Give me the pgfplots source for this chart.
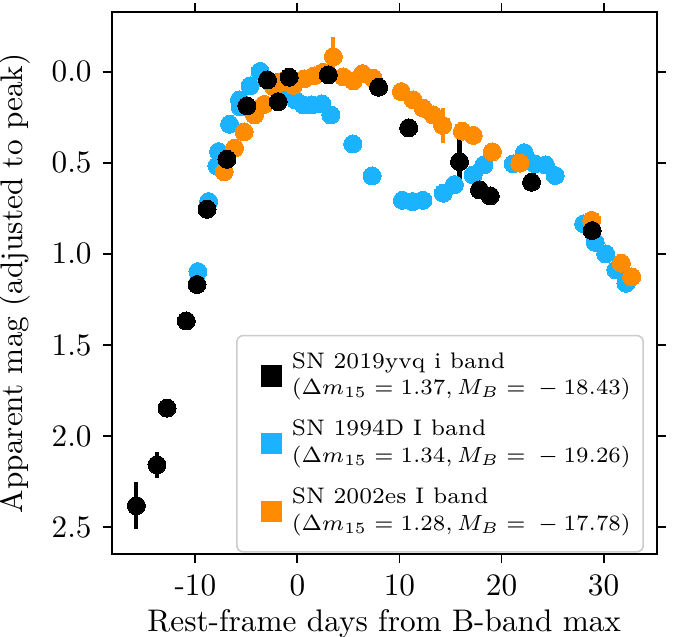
\documentclass[border=0pt]{standalone}
\usepackage{pgfplots}
\usepackage{pgfplotstable}
\pgfplotsset{compat=1.18}
\definecolor{sblue}{RGB}{27,178,255}
\definecolor{sorange}{RGB}{255,140,0}
\definecolor{legframe}{RGB}{204,204,204}

\pgfplotstableread{
x y e
-15.78 2.381 0.128
-13.76 2.157 0.073
-12.78 1.846 0.0
-10.89 1.368 0.0
-9.84 1.168 0.0
-8.86 0.755 0.0
-6.91 0.481 0.0
-4.95 0.188 0.0
-2.94 0.046 0.0
-1.89 0.165 0.0
-0.81 0.031 0.0
3.03 0.018 0.0
7.95 0.086 0.0
10.90 0.309 0.0
15.88 0.494 0.155
17.84 0.649 0.0
18.89 0.682 0.0
22.94 0.607 0.0
28.88 0.872 0.0
}\sntwo

\pgfplotstableread{
x y
-9.75 1.097
-8.71 0.713
-7.89 0.517
-7.73 0.439
-6.65 0.289
-5.68 0.155
-5.61 0.194
-4.63 0.078
-3.65 -0.001
-2.0 0.06
-1.0 0.125
-0.22 0.155
0.59 0.183
1.41 0.183
2.39 0.177
3.27 0.238
5.42 0.397
7.31 0.572
10.29 0.706
11.29 0.713
12.30 0.706
14.29 0.667
15.38 0.620
17.22 0.567
18.27 0.512
21.15 0.506
22.23 0.445
23.26 0.506
24.31 0.512
25.26 0.570
28.05 0.835
29.18 0.937
30.20 1.000
31.20 1.088
32.19 1.161
}\snd

\pgfplotstableread{
x y e
-7.17 0.549 0.0
-6.16 0.420 0.0
-5.22 0.331 0.0
-4.21 0.238 0.0
-3.26 0.180 0.0
-2.35 0.082 0.0
-1.53 0.055 0.0
-0.39 0.076 0.0
0.66 0.040 0.0
1.63 0.024 0.0
2.51 0.004 0.0
3.52 -0.082 0.110
4.50 0.029 0.0
5.48 0.051 0.0
6.38 0.011 0.0
7.41 0.036 0.0
10.18 0.110 0.0
11.35 0.155 0.0
12.33 0.201 0.0
13.31 0.238 0.0
14.23 0.295 0.097
16.16 0.327 0.0
17.22 0.350 0.0
19.10 0.440 0.0
21.79 0.502 0.0
28.84 0.816 0.048
31.74 1.051 0.0
32.75 1.126 0.0
}\sntwoes

\begin{document}
\begin{tikzpicture}
\begin{axis}[
  name=ax,
  scale only axis,
  width=174.4pt, height=173.4pt,
  xmin=-18.2, xmax=35.2,
  ymin=-0.325, ymax=2.647,
  y dir=reverse,
  xtick={-10,0,10,20,30},
  xticklabels={-10,0,10,20,30},
  ytick={0,0.5,1,1.5,2,2.5},
  yticklabels={0.0,0.5,1.0,1.5,2.0,2.5},
  tick pos=both,
  tick align=outside,
  major tick length=2.9pt,
  every tick/.style={black, line width=0.6pt},
  axis line style={line width=0.64pt},
  xlabel={Rest-frame days from B-band max},
  ylabel={Apparent mag (adjusted to peak)},
  xlabel style={yshift=2.5pt},
  legend cell align=left,
  legend style={
    at={(0.9767,0.003)}, anchor=south east,
    draw=legframe, line width=0.5pt, rounded corners=2pt,
    inner xsep=2pt, inner ysep=2.1pt,
    font=\fontsize{7.2}{8.5}\selectfont,
    cells={align=left},
    nodes={inner xsep=2pt, inner ysep=3.3pt},
  },
]
\addplot[forget plot, only marks, mark=*, mark size=2.88pt, color=sblue,
  mark options={fill=sblue, draw=sblue, line width=0pt}]
  table[x=x, y=y] {\snd};
\addplot[forget plot, only marks, mark=*, mark size=2.88pt, color=sorange,
  mark options={fill=sorange, draw=sorange, line width=0pt},
  error bars/.cd, y dir=both, y explicit, error mark=none,
  error bar style={line width=1.3pt, sorange}]
  table[x=x, y=y, y error=e] {\sntwoes};
\addplot[forget plot, only marks, mark=*, mark size=2.88pt, color=black,
  mark options={fill=black, draw=black, line width=0pt},
  error bars/.cd, y dir=both, y explicit, error mark=none,
  error bar style={line width=1.3pt, black}]
  table[x=x, y=y, y error=e] {\sntwo};

\addlegendimage{legend image code/.code={\fill[white, sharp corners] (-5.7pt,-0.05pt) rectangle (7.4pt,0.05pt);\fill[black, sharp corners] (0pt,-3.2pt) rectangle (6.4pt,3.2pt);}}
\addlegendentry{SN 2019yvq i band\\$(\Delta m_{15}=1.37, M_B={}-{}18.43)$}
\addlegendimage{legend image code/.code={\fill[white, sharp corners] (-5.7pt,-0.05pt) rectangle (7.4pt,0.05pt);\fill[sblue, sharp corners] (0pt,-3.2pt) rectangle (6.4pt,3.2pt);}}
\addlegendentry{SN 1994D I band\\$(\Delta m_{15}=1.34, M_B={}-{}19.26)$}
\addlegendimage{legend image code/.code={\fill[white, sharp corners] (-5.7pt,-0.05pt) rectangle (7.4pt,0.05pt);\fill[sorange, sharp corners] (0pt,-3.2pt) rectangle (6.4pt,3.2pt);}}
\addlegendentry{SN 2002es I band\\$(\Delta m_{15}=1.28, M_B={}-{}17.78)$}
\end{axis}
\pgfresetboundingbox
\path ([xshift=-35.74pt, yshift=-26.46pt]ax.south west) rectangle ([xshift=6.82pt, yshift=3.94pt]ax.north east);
\end{tikzpicture}
\end{document}
